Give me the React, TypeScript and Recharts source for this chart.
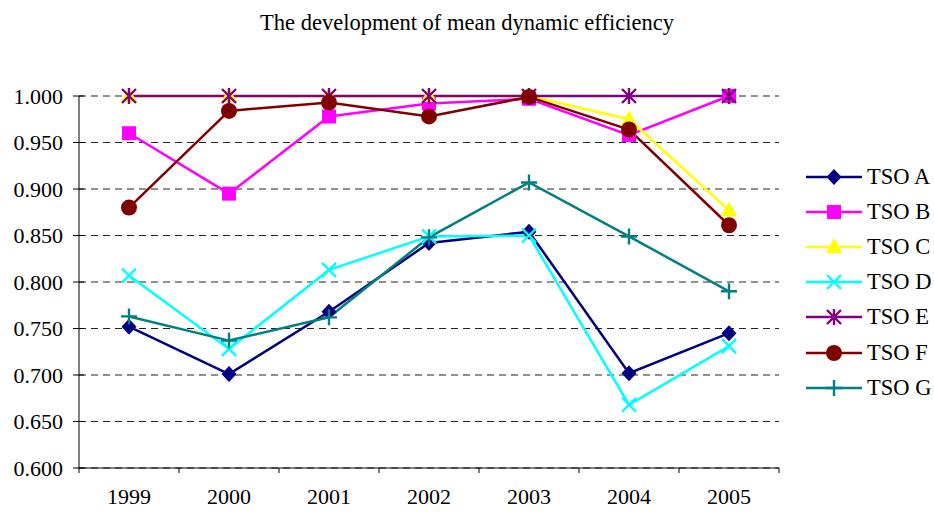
import { LineChart, Line, XAxis, YAxis, CartesianGrid } from "recharts";

// chart data
const years = ["1999", "2000", "2001", "2002", "2003", "2004", "2005"];
const tsoA = [0.752, 0.701, 0.768, 0.842, 0.854, 0.702, 0.745];
const tsoB = [0.96, 0.895, 0.978, 0.992, 0.997, 0.958, 1.0];
const tsoC = [1.0, 1.0, 1.0, 1.0, 1.0, 0.975, 0.877];
const tsoD = [0.807, 0.728, 0.813, 0.849, 0.85, 0.668, 0.731];
const tsoE = [1.0, 1.0, 1.0, 1.0, 1.0, 1.0, 1.0];
const tsoF = [0.88, 0.984, 0.993, 0.978, 0.999, 0.964, 0.861];
const tsoG = [0.763, 0.737, 0.762, 0.848, 0.907, 0.849, 0.79];
const yTicks = [0.6, 0.65, 0.7, 0.75, 0.8, 0.85, 0.9, 0.95, 1.0];

type Shape = "diamond" | "square" | "triangle" | "x" | "star" | "circle" | "plus";

const series: { key: string; name: string; color: string; shape: Shape; values: number[] }[] = [
  { key: "A", name: "TSO A", color: "#000080", shape: "diamond", values: tsoA },
  { key: "B", name: "TSO B", color: "#FF00FF", shape: "square", values: tsoB },
  { key: "C", name: "TSO C", color: "#FFFF00", shape: "triangle", values: tsoC },
  { key: "D", name: "TSO D", color: "#00FFFF", shape: "x", values: tsoD },
  { key: "E", name: "TSO E", color: "#800080", shape: "star", values: tsoE },
  { key: "F", name: "TSO F", color: "#800000", shape: "circle", values: tsoF },
  { key: "G", name: "TSO G", color: "#008080", shape: "plus", values: tsoG },
];

// one row per year, x sits in the middle of its category
const data = years.map((year, i) => {
  const row: Record<string, number | string> = { x: i + 0.5, year };
  series.forEach(s => (row[s.key] = s.values[i]));
  return row;
});

const W = 934;
const H = 512;
const margin = { top: 96, right: 155, bottom: 0, left: 0 };
const yAxisW = 79;
const xAxisH = 44;
const plotW = W - margin.left - margin.right - yAxisW;
const catW = plotW / years.length;
const font = '"Liberation Serif", "Times New Roman", serif';

// Excel-like markers
function Marker({ shape, color, cx, cy }: { shape: Shape; color: string; cx: number; cy: number }) {
  switch (shape) {
    case "diamond":
      return <polygon points={`${cx},${cy - 8} ${cx + 7.5},${cy} ${cx},${cy + 8} ${cx - 7.5},${cy}`} fill={color} />;
    case "square":
      return <rect x={cx - 7} y={cy - 7} width={14} height={14} fill={color} />;
    case "triangle":
      return <polygon points={`${cx},${cy - 9} ${cx + 8},${cy + 6} ${cx - 8},${cy + 6}`} fill={color} />;
    case "x":
      return (
        <path d={`M${cx - 7},${cy - 7}L${cx + 7},${cy + 7}M${cx + 7},${cy - 7}L${cx - 7},${cy + 7}`}
          stroke={color} strokeWidth={2.4} />
      );
    case "star":
      return (
        <path d={`M${cx - 7},${cy - 7}L${cx + 7},${cy + 7}M${cx + 7},${cy - 7}L${cx - 7},${cy + 7}M${cx},${cy - 8}L${cx},${cy + 8}`}
          stroke={color} strokeWidth={2.4} />
      );
    case "circle":
      return <circle cx={cx} cy={cy} r={8} fill={color} />;
    case "plus":
      return (
        <path d={`M${cx - 8},${cy}L${cx + 8},${cy}M${cx},${cy - 8}L${cx},${cy + 8}`}
          stroke={color} strokeWidth={2.4} />
      );
  }
}

// x ticks sit on category borders, labels in the middle
function XTick(props: any) {
  const { x, y, payload } = props;
  const i = payload.value as number;
  return (
    <g>
      <line x1={x} x2={x} y1={y} y2={y + 5} stroke="#000" />
      {i < years.length && (
        <text x={x + catW / 2} y={y + 36} textAnchor="middle" fontFamily={font} fontSize={22} fill="#000">
          {years[i]}
        </text>
      )}
    </g>
  );
}

// y ticks cross the axis line
function YTick(props: any) {
  const { x, y, payload } = props;
  return (
    <g>
      <line x1={x - 6} x2={x + 5} y1={y} y2={y} stroke="#000" />
      <text x={x - 16} y={y} dy="0.35em" textAnchor="end" fontFamily={font} fontSize={22} fill="#000">
        {(payload.value as number).toFixed(3)}
      </text>
    </g>
  );
}

export default function App() {
  return (
    <div style={{ position: "absolute", left: 0, top: 0, width: W, height: H, background: "#fff" }}>
      {/* title */}
      <div
        style={{
          position: "absolute", left: 0, top: 10, width: W, textAlign: "center",
          fontFamily: font, fontSize: 22.5, color: "#000",
        }}
      >
        The development of mean dynamic efficiency
      </div>

      <LineChart width={W} height={H} data={data} margin={margin}>
        <CartesianGrid vertical={false} stroke="#222" strokeDasharray="7 5" />
        <XAxis
          type="number"
          dataKey="x"
          domain={[0, years.length]}
          ticks={[0, 1, 2, 3, 4, 5, 6, 7]}
          height={xAxisH}
          tickSize={0}
          tickMargin={0}
          tickLine={false}
          axisLine={{ stroke: "#000" }}
          tick={<XTick />}
          interval={0}
        />
        <YAxis
          domain={[0.6, 1.0]}
          ticks={yTicks}
          width={yAxisW}
          tickSize={0}
          tickMargin={0}
          tickLine={false}
          axisLine={{ stroke: "#000" }}
          tick={<YTick />}
          interval={0}
        />
        {series.map(s => (
          <Line
            key={s.key}
            dataKey={s.key}
            stroke={s.color}
            strokeWidth={2.5}
            isAnimationActive={false}
            dot={(p: any) => <Marker key={`${s.key}-${p.index}`} shape={s.shape} color={s.color} cx={p.cx} cy={p.cy} />}
            activeDot={false}
          />
        ))}
      </LineChart>

      {/* legend on the right */}
      <div style={{ position: "absolute", left: 806, top: 159, fontFamily: font, fontSize: 22.5, color: "#000" }}>
        {series.map(s => (
          <div key={s.key} style={{ height: 35.2, display: "flex", alignItems: "center" }}>
            <svg width={56} height={20} style={{ display: "block" }}>
              <line x1={0} x2={56} y1={10} y2={10} stroke={s.color} strokeWidth={2.5} />
              <Marker shape={s.shape} color={s.color} cx={28} cy={10} />
            </svg>
            <span style={{ marginLeft: 5, whiteSpace: "nowrap" }}>{s.name}</span>
          </div>
        ))}
      </div>
    </div>
  );
}
